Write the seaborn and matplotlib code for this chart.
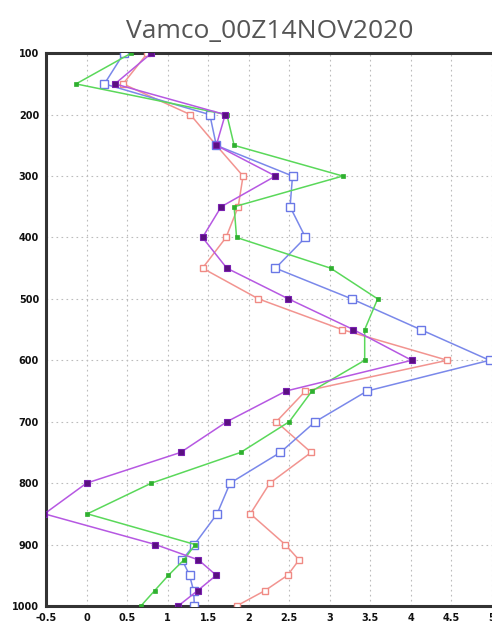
import numpy as np
import pandas as pd
import matplotlib
matplotlib.use("Agg")
import matplotlib.pyplot as plt
import seaborn as sns

levels = [100, 150, 200, 250, 300, 350, 400, 450, 500, 550, 600, 650, 700,
          750, 800, 850, 900, 925, 950, 975, 1000]
blue = [0.46, 0.22, 1.52, 1.60, 2.54, 2.51, 2.70, 2.33, 3.27, 4.12, 4.97, 3.46,
        2.82, 2.39, 1.77, 1.61, 1.33, 1.18, 1.27, 1.32, 1.33]
green = [0.55, -0.13, 1.73, 1.82, 3.16, 1.82, 1.85, 3.01, 3.59, 3.43, 3.43,
         2.78, 2.50, 1.90, 0.80, 0.01, 1.34, 1.20, 1.01, 0.84, 0.67]
purple = [0.80, 0.35, 1.71, 1.60, 2.33, 1.66, 1.43, 1.73, 2.49, 3.29, 4.01,
          2.46, 1.73, 1.16, 0.00, -0.52, 0.85, 1.38, 1.60, 1.37, 1.13]
red = [0.75, 0.45, 1.28, 1.60, 1.93, 1.87, 1.72, 1.43, 2.12, 3.15, 4.45, 2.70,
       2.34, 2.77, 2.26, 2.02, 2.45, 2.62, 2.48, 2.20, 1.85]
title = "Vamco_00Z14NOV2020"
xticks = [-0.5, 0, 0.5, 1, 1.5, 2, 2.5, 3, 3.5, 4, 4.5, 5]
xticklabels = ["-0.5", "0", "0.5", "1", "1.5", "2", "2.5", "3", "3.5", "4", "4.5", "5"]
yticks = [100, 200, 300, 400, 500, 600, 700, 800, 900, 1000]

sns.set_style("white")
plt.rcParams['font.family'] = ['DejaVu Sans']

fig = plt.figure(figsize=(4.92, 6.26), dpi=100)
ax = fig.add_axes([0.0935, 0.032, 0.9065, 0.883])

styles = [
    (red, dict(color="#f29490", marker="s", mfc="white", mec="#f08a84", ms=5, mew=1.0, lw=1.1)),
    (blue, dict(color="#7a88ea", marker="s", mfc="white", mec="#6a78e6", ms=5.5, mew=1.0, lw=1.1)),
    (green, dict(color="#5ad85a", marker="s", mfc="#2fb02f", mec="#2fb02f", ms=3, mew=0.5, lw=1.1)),
    (purple, dict(color="#b658e2", marker="s", mfc="#5a1080", mec="#7a20b0", ms=4, mew=0.8, lw=1.1)),
]
for vals, st in styles:
    df = pd.DataFrame({"x": vals, "p": levels})
    sns.lineplot(data=df, x="x", y="p", sort=False, estimator=None, ax=ax,
                 color=st["color"], lw=st["lw"], marker=st["marker"], markersize=st["ms"],
                 markerfacecolor=st["mfc"], markeredgecolor=st["mec"], markeredgewidth=st["mew"],
                 clip_on=True, zorder=3)

ax.set_xlim(-0.5, 5)
ax.set_ylim(1000, 100)
ax.set_xticks(xticks)
ax.set_xticklabels(xticklabels)
ax.set_yticks(yticks)
ax.set_yticklabels([str(v) for v in yticks])
ax.set_xlabel("")
ax.set_ylabel("")

ax.grid(True, color="#bcbcbc", linestyle=(0, (1.5, 3)), linewidth=0.8)
ax.set_axisbelow(True)
for s in ["left", "bottom", "top"]:
    ax.spines[s].set_linewidth(2.2)
    ax.spines[s].set_color("#333333")
ax.spines["right"].set_visible(False)

ax.yaxis.set_minor_locator(matplotlib.ticker.MultipleLocator(20))
ax.xaxis.set_minor_locator(matplotlib.ticker.MultipleLocator(0.1))
ax.tick_params(axis="both", which="major", labelsize=7, length=4, width=1.2,
               direction="out", pad=1, colors="#111111")
ax.tick_params(axis="both", which="minor", length=2, width=0.8, direction="out")
for lab in ax.get_xticklabels() + ax.get_yticklabels():
    lab.set_fontweight("bold")

fig.text(0.549, 0.949, title, ha="center", va="center", fontsize=19,
         color="#555555", family=["Open Sans", "DejaVu Sans"])

fig.savefig("out.png", dpi=100)
